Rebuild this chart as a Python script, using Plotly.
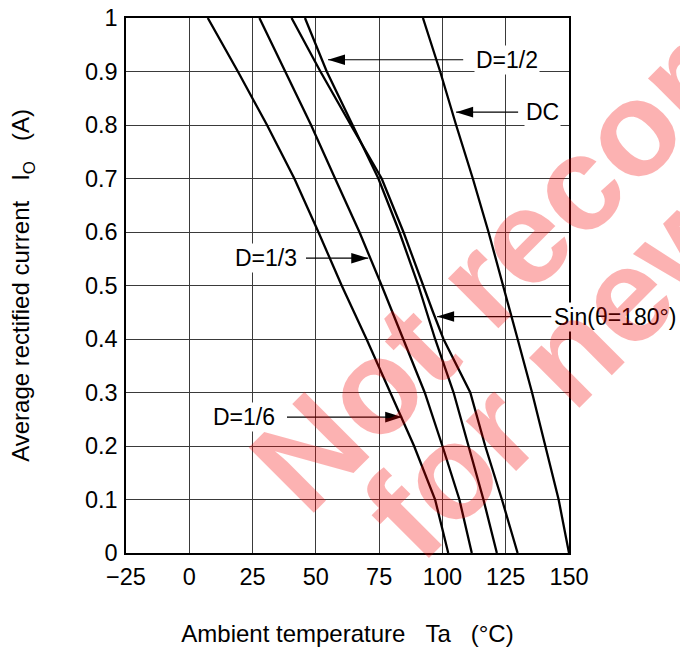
import plotly.graph_objects as go

# ---------------- data ----------------
current_levels = [1.0, 0.9, 0.8, 0.7, 0.6, 0.5, 0.4, 0.3, 0.2, 0.1, 0.0]
ta_dc = [92.3, 99.1, 105.4, 112.0, 118.2, 124.1, 129.7, 135.4, 140.6, 145.9, 150.0]
ta_d12 = [45.7, 54.3, 64.5, 74.7, 83.0, 90.5, 97.1, 104.4, 110.3, 116.2, 121.5]
ta_d13 = [27.7, 37.9, 48.1, 57.6, 67.2, 76.0, 84.5, 93.0, 100.0, 106.7, 111.6]
ta_d16 = [7.3, 19.2, 30.7, 41.5, 51.0, 60.2, 70.0, 79.3, 88.8, 97.1, 102.3]
current_sin = [1.0, 0.9, 0.8, 0.7, 0.6, 0.5, 0.45, 0.4, 0.3, 0.2, 0.1, 0.0]
ta_sin = [40.4, 51.8, 63.8, 76.0, 84.6, 92.2, 96.3, 100.4, 111.0, 116.9, 123.5, 129.7]

x_ticks = [-25, 0, 25, 50, 75, 100, 125, 150]
y_ticks = [0, 0.1, 0.2, 0.3, 0.4, 0.5, 0.6, 0.7, 0.8, 0.9, 1.0]

label_text = ["D=1/2", "DC", "D=1/3", "Sin(\u03b8=180\u00b0)", "D=1/6"]
arrow_tip_ta = [54.8, 105.4, 70.7, 97.9, 84.1]
arrow_tip_io = [0.922, 0.824, 0.551, 0.442, 0.254]
arrow_tail_ta = [108.2, 129.9, 46.1, 143.0, 38.6]
text_ta = [112.4, 132.4, 43.3, 143.4, 34.6]
text_side = ["left", "left", "right", "left", "right"]

FONT = "Liberation Sans, Arial, Helvetica, sans-serif"

fig = go.Figure()

series = [
    (ta_d16, current_levels, "D=1/6"),
    (ta_d13, current_levels, "D=1/3"),
    (ta_d12, current_levels, "D=1/2"),
    (ta_sin, current_sin, "Sin"),
    (ta_dc, current_levels, "DC"),
]
for xs, ys, nm in series:
    fig.add_trace(go.Scatter(x=xs, y=ys, mode="lines", name=nm,
                             line=dict(color="black", width=2.3),
                             showlegend=False, hoverinfo="skip"))

# labels + arrows
shapes = []
annotations = []
for txt, tx, ty, tail, lx, side in zip(label_text, arrow_tip_ta, arrow_tip_io,
                                       arrow_tail_ta, text_ta, text_side):
    shapes.append(dict(type="line", xref="x", yref="y", x0=tail, x1=tx, y0=ty, y1=ty,
                       line=dict(color="black", width=1.2), layer="above"))
    d = 1 if tail > tx else -1
    shapes.append(dict(type="path", xref="x", yref="y", xsizemode="pixel", ysizemode="pixel",
                       xanchor=tx, yanchor=ty,
                       path=f"M0,0 L{17*d},5.3 L{17*d},-5.3 Z",
                       fillcolor="black", line=dict(width=0), layer="above"))
    annotations.append(dict(x=lx, y=ty, xref="x", yref="y", text=txt, showarrow=False,
                            xanchor=side, yanchor="middle", bgcolor="white", borderpad=1,
                            font=dict(family=FONT, size=23, color="black")))

# watermark (positioned in page pixels, converted to paper coordinates)
def px_x(p):
    return (p - 126) / 443.0

def px_y(p):
    return (553 - p) / 535.0

wm_font = dict(family=FONT, size=134, color="rgba(245,0,0,0.30)", weight="bold")
annotations.append(dict(x=px_x(690), y=px_y(70), xref="paper", yref="paper",
                        text="Not recommended", showarrow=False, textangle=-45,
                        xanchor="center", yanchor="middle", font=wm_font))
annotations.append(dict(x=px_x(722), y=px_y(200), xref="paper", yref="paper",
                        text="for new design", showarrow=False, textangle=-45,
                        xanchor="center", yanchor="middle", font=wm_font))

axis_common = dict(showgrid=True, gridcolor="#3a3a3a", gridwidth=1, zeroline=False,
                   showline=True, linecolor="black", linewidth=1.5, mirror=True,
                   ticks="", automargin=False,
                   tickfont=dict(family=FONT, size=23.5, color="black"))

fig.update_layout(
    width=680, height=653,
    margin=dict(l=126, r=111, t=18, b=100),
    paper_bgcolor="white", plot_bgcolor="white",
    xaxis=dict(range=[-25, 150], tickvals=x_ticks, ticklabelstandoff=2,
               title=dict(text="Ambient temperature\u00a0\u00a0\u00a0Ta\u00a0\u00a0\u00a0(\u00b0C)",
                          font=dict(family=FONT, size=24, color="black"), standoff=36),
               **axis_common),
    yaxis=dict(range=[0, 1], tickvals=y_ticks, ticklabelstandoff=2,
               title=dict(text="Average rectified current\u00a0\u00a0\u00a0I<sub>O</sub>\u00a0\u00a0\u00a0(A)",
                          font=dict(family=FONT, size=24, color="black"), standoff=48),
               **axis_common),
    shapes=shapes,
    annotations=annotations,
    showlegend=False,
)

fig.write_html("out.html")
